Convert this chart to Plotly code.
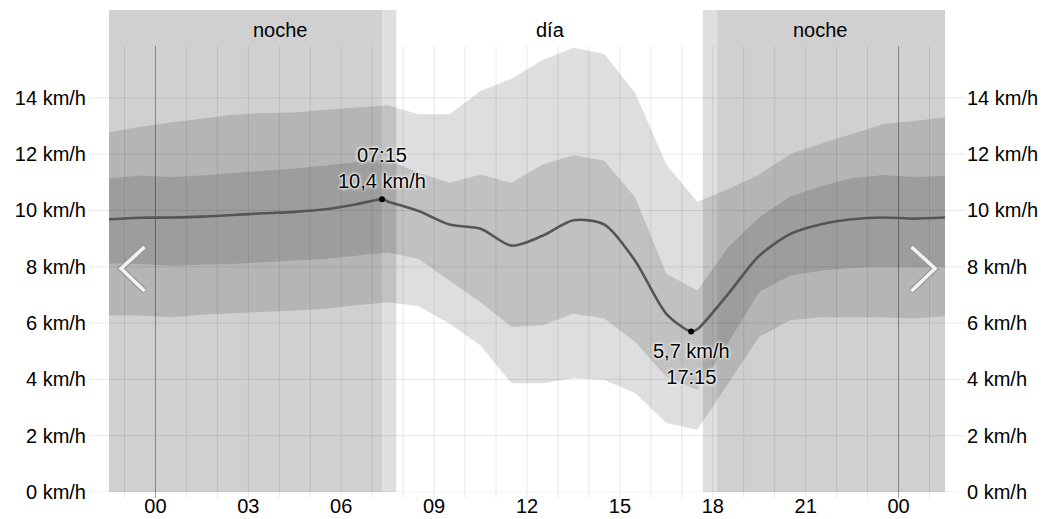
import plotly.graph_objects as go

# ---------------- data ----------------
hours = [-1.5, -0.5, 0.5, 1.5, 2.5, 3.5, 4.5, 5.5, 6.5, 7.5, 8.5, 9.5, 10.5, 11.5,
         12.5, 13.5, 14.5, 15.5, 16.5, 17.5, 18.5, 19.5, 20.5, 21.5, 22.5, 23.5, 24.5, 25.5]
p90 = [12.78, 12.97, 13.12, 13.27, 13.40, 13.46, 13.48, 13.58, 13.66, 13.74, 13.42, 13.42, 14.24, 14.68,
       15.34, 15.78, 15.56, 14.16, 11.63, 10.31, 10.75, 11.28, 12.00, 12.38, 12.72, 13.06, 13.18, 13.30]
p75 = [11.14, 11.24, 11.19, 11.24, 11.33, 11.40, 11.49, 11.60, 11.72, 11.80, 11.34, 10.98, 11.28, 10.98,
       11.63, 11.96, 11.77, 10.45, 7.75, 7.16, 8.70, 9.75, 10.50, 10.87, 11.14, 11.26, 11.19, 11.22]
mean_speed = [9.69, 9.74, 9.75, 9.78, 9.84, 9.90, 9.95, 10.04, 10.22, 10.32, 9.98, 9.50, 9.35, 8.75,
              9.10, 9.65, 9.50, 8.20, 6.33, 5.78, 7.04, 8.39, 9.16, 9.51, 9.69, 9.75, 9.71, 9.75]
p25 = [8.12, 8.10, 8.04, 8.07, 8.10, 8.16, 8.22, 8.28, 8.39, 8.51, 8.28, 7.51, 6.74, 5.86,
       5.92, 6.33, 6.16, 5.33, 4.09, 3.62, 5.30, 7.10, 7.69, 7.86, 7.96, 8.00, 7.98, 8.00]
p10 = [6.27, 6.27, 6.21, 6.30, 6.35, 6.41, 6.45, 6.51, 6.63, 6.74, 6.60, 5.98, 5.20, 3.86,
       3.86, 4.04, 3.98, 3.51, 2.45, 2.21, 3.86, 5.51, 6.10, 6.21, 6.21, 6.21, 6.16, 6.24]

extreme_hours = [7.32, 17.3]
extreme_speed = [10.4, 5.7]
extreme_time = ["07:15", "17:15"]
extreme_value = ["10,4 km/h", "5,7 km/h"]

dawn, sunrise, sunset, dusk = 7.33, 7.78, 17.68, 18.14
period_labels = ["noche", "día", "noche"]
period_label_x = [4.04, 12.77, 21.47]

x_tickvals = [0, 3, 6, 9, 12, 15, 18, 21, 24]
x_ticktext = ["00", "03", "06", "09", "12", "15", "18", "21", "00"]
y_tickvals = [0, 2, 4, 6, 8, 10, 12, 14]
y_ticktext = [f"{v} km/h" for v in y_tickvals]

X_MIN, X_MAX = -1.5, 25.5
Y_MAX = 17.12
FONT = "Liberation Sans, Arial, Helvetica, sans-serif"
TXT = "#000"

fig = go.Figure()

band_color = "rgba(0,0,0,0.13)"
for lo, hi in [(p10, p90), (p25, p75)]:
    fig.add_trace(go.Scatter(
        x=hours + hours[::-1], y=hi + lo[::-1], fill="toself",
        fillcolor=band_color, line=dict(width=0), mode="lines",
        hoverinfo="skip", showlegend=False))

# mean line incl. extremes
pts = sorted(list(zip(hours, mean_speed)) + list(zip(extreme_hours, extreme_speed)))
fig.add_trace(go.Scatter(
    x=[p[0] for p in pts], y=[p[1] for p in pts], mode="lines",
    line=dict(color="#555555", width=2.6, shape="spline", smoothing=0.8),
    hoverinfo="skip", showlegend=False))

fig.add_trace(go.Scatter(
    x=extreme_hours, y=extreme_speed, mode="markers",
    marker=dict(color="black", size=6), hoverinfo="skip", showlegend=False))

# invisible trace on right axis
fig.add_trace(go.Scatter(x=[X_MIN], y=[0], yaxis="y2", mode="markers",
                         marker=dict(opacity=0), hoverinfo="skip", showlegend=False))

shapes = []
# night / twilight shading
shapes.append(dict(type="rect", xref="x", yref="paper", x0=X_MIN, x1=dawn, y0=0, y1=1,
                   fillcolor="#d0d0d0", line=dict(width=0), layer="below"))
shapes.append(dict(type="rect", xref="x", yref="paper", x0=dawn, x1=sunrise, y0=0, y1=1,
                   fillcolor="#dfdfdf", line=dict(width=0), layer="below"))
shapes.append(dict(type="rect", xref="x", yref="paper", x0=sunset, x1=dusk, y0=0, y1=1,
                   fillcolor="#dfdfdf", line=dict(width=0), layer="below"))
shapes.append(dict(type="rect", xref="x", yref="paper", x0=dusk, x1=X_MAX, y0=0, y1=1,
                   fillcolor="#d0d0d0", line=dict(width=0), layer="below"))

# horizontal grid
for v in y_tickvals:
    shapes.append(dict(type="line", xref="paper", yref="y", x0=-0.024, x1=1.024, y0=v, y1=v,
                       line=dict(color="rgba(0,0,0,0.09)", width=1), layer="below"))
# vertical grid (hourly)
for h in range(-1, 26):
    midnight = h % 24 == 0
    shapes.append(dict(type="line", xref="x", yref="paper", x0=h, x1=h, y0=-0.0125, y1=0.925,
                       line=dict(color="rgba(0,0,0,0.38)" if midnight else "rgba(0,0,0,0.09)", width=1),
                       layer="below"))

# navigation chevrons (decoration)
for pts_c in ([(0.0425, 0.5083), (0.0144, 0.4637), (0.0425, 0.417)],
              [(0.9600, 0.5083), (0.9881, 0.4637), (0.9600, 0.417)]):
    path = "M {} {} L {} {} L {} {}".format(*[c for p in pts_c for c in p])
    shapes.append(dict(type="path", xref="paper", yref="paper", path=path,
                       line=dict(color="#9a9a9a", width=6), layer="above"))
    shapes.append(dict(type="path", xref="paper", yref="paper", path=path,
                       line=dict(color="#f2f2f2", width=3.5), layer="above"))

annotations = []
for lab, lx in zip(period_labels, period_label_x):
    annotations.append(dict(x=lx, y=(482 - 20) / 482, xref="x", yref="paper", text=lab,
                            showarrow=False, font=dict(size=20, color=TXT, family=FONT),
                            xanchor="center", yanchor="middle"))

halo = "0 0 2px #fff, 0 0 3px #fff, 0 0 4px #fff"
annotations.append(dict(x=extreme_hours[0], y=extreme_speed[0], xref="x", yref="y",
                        text=f"{extreme_time[0]}<br>{extreme_value[0]}", showarrow=False,
                        yanchor="bottom", xanchor="center", yshift=5,
                        font=dict(size=20, color=TXT, family=FONT, shadow=halo)))
annotations.append(dict(x=extreme_hours[1], y=extreme_speed[1], xref="x", yref="y",
                        text=f"{extreme_value[1]}<br>{extreme_time[1]}", showarrow=False,
                        yanchor="top", xanchor="center", yshift=-6,
                        font=dict(size=20, color=TXT, family=FONT, shadow=halo)))

fig.update_layout(
    width=1051, height=519,
    margin=dict(l=109, r=106, t=10, b=27),
    paper_bgcolor="white", plot_bgcolor="white",
    font=dict(family=FONT, size=20, color=TXT),
    xaxis=dict(range=[X_MIN, X_MAX], showgrid=False, zeroline=False, showline=False,
               tickvals=x_tickvals, ticktext=x_ticktext, ticks="", ticklabelstandoff=0,
               tickfont=dict(size=20, color=TXT), automargin=False),
    yaxis=dict(range=[0, Y_MAX], showgrid=False, zeroline=False, showline=False,
               tickvals=y_tickvals, ticktext=y_ticktext, ticks="", ticklabelstandoff=22,
               tickfont=dict(size=20, color=TXT), automargin=False),
    yaxis2=dict(range=[0, Y_MAX], overlaying="y", side="right", showgrid=False, zeroline=False,
                showline=False, tickvals=y_tickvals, ticktext=y_ticktext, ticks="",
                ticklabelstandoff=21, tickfont=dict(size=20, color=TXT), automargin=False),
    shapes=shapes, annotations=annotations, showlegend=False,
)

# remove the default 8px body margin so the 1051x519 figure fills the window exactly
fig.write_html("out.html", config={"displayModeBar": False},
               post_script="document.body.style.margin='0px';")
